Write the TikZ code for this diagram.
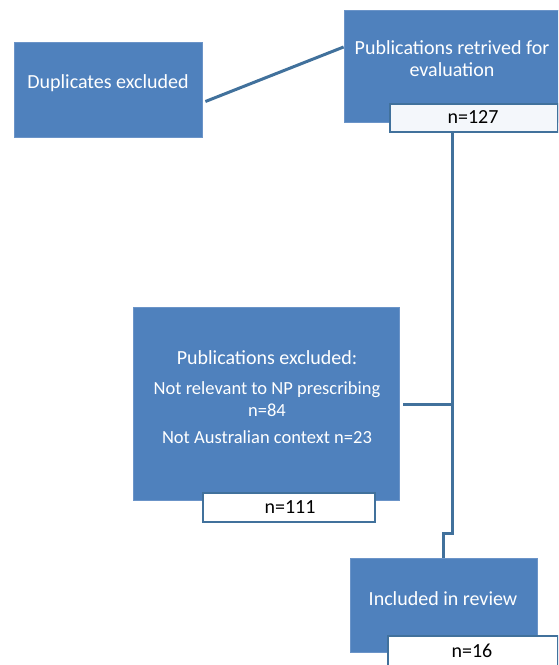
\documentclass[tikz,border=0pt]{standalone}
\usepackage{fontspec}
\setmainfont{Carlito}
\definecolor{boxblue}{HTML}{4F81BD}
\definecolor{lineblue}{HTML}{41719C}
\definecolor{edgeblue}{HTML}{6B94C8}
\begin{document}
\begin{tikzpicture}[x=1pt,y=-1pt,
  bluebox/.style={rectangle,fill=boxblue,draw=edgeblue,line width=0.8pt,inner sep=0pt,text=white,align=center,font=\fontsize{20}{22}\selectfont},
  countbox/.style={rectangle,fill=white,draw=lineblue,line width=1.2pt,inner sep=0pt,text=black,font=\fontsize{20}{22}\selectfont},
  conn/.style={draw=lineblue,line width=3pt}]
\useasboundingbox (0,0) rectangle (558,665);
\clip (0,0) rectangle (558,665);
% boxes
\node[bluebox,minimum width=216pt,minimum height=112pt] (pub) at (452,66) {};
\node[text=white,align=center,font=\fontsize{20}{22}\selectfont] (pubtxt) at (452,59) {Publications retrived for\\evaluation};
\node[countbox,fill=white!94!boxblue,minimum width=168pt,minimum height=28pt] (n127) at (474,118) {};
\node[font=\fontsize{20}{22}\selectfont] (n127txt) at (473,117) {n=127};

\node[bluebox,minimum width=188pt,minimum height=95pt] (dup) at (108,89.5) {};
\node[text=white,font=\fontsize{20}{22}\selectfont] (duptxt) at (108,83) {Duplicates excluded};

\node[bluebox,minimum width=266pt,minimum height=193pt] (exc) at (266,403.5) {};
\node[text=white,font=\fontsize{20}{22}\selectfont] (exct1) at (267,358) {Publications excluded:};
\node[text=white,align=center,font=\fontsize{18.5}{22}\selectfont] (exct2) at (267,399) {Not relevant to NP prescribing\\n=84};
\node[text=white,font=\fontsize{18.5}{22}\selectfont] (exct3) at (267,437) {Not Australian context n=23};
\node[countbox,minimum width=172pt,minimum height=29pt] (n111) at (289,507.5) {};
\node[font=\fontsize{20}{22}\selectfont] (n111txt) at (290,507) {n=111};

\node[bluebox,minimum width=187pt,minimum height=94pt] (inc) at (443.5,605) {};
\node[text=white,font=\fontsize{20}{22}\selectfont] (inctxt) at (443,599) {Included in review};
\node[countbox,minimum width=170pt,minimum height=40pt] (n16) at (473,656) {};
\node[font=\fontsize{20}{22}\selectfont] (n16txt) at (472,651) {n=16};

% connectors
\draw[conn] ([shift={(3,12)}]dup.east) -- ([shift={(0,-19)}]pub.west);
\coordinate (jog) at (452,533);
\coordinate (branch) at (452,404);
\draw[conn] (n127.south -| branch) -- (jog) -- ++(-9,0) -- (inc.north -| 443,0);
\draw[conn] ([xshift=4pt]exc.east |- branch) -- (branch);
\end{tikzpicture}
\end{document}
